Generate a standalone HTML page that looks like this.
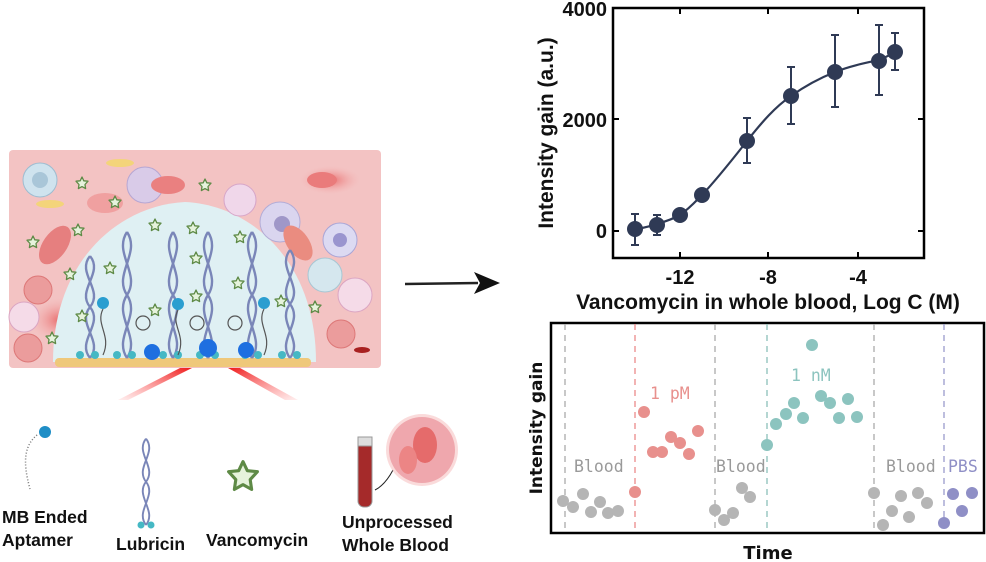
<!DOCTYPE html>
<html><head><meta charset="utf-8"><style>
html,body{margin:0;padding:0;background:#fff;}
svg{display:block;font-family:"Liberation Sans",Arial,sans-serif;}
</style></head><body>
<svg width="986" height="562" viewBox="0 0 986 562" xmlns="http://www.w3.org/2000/svg">
<defs>
<radialGradient id="rb" cx="0.5" cy="0.5" r="0.5"><stop offset="0" stop-color="#e86a6a"/><stop offset="1" stop-color="#f4b0b0" stop-opacity="0"/></radialGradient>
<linearGradient id="beam1" x1="1" y1="0" x2="0" y2="1"><stop offset="0" stop-color="#ee1c1c"/><stop offset="1" stop-color="#ff6060" stop-opacity="0.1"/></linearGradient>
<linearGradient id="beam2" x1="0" y1="0" x2="1" y2="1"><stop offset="0" stop-color="#ee1c1c"/><stop offset="1" stop-color="#ff6060" stop-opacity="0.1"/></linearGradient>
<g id="star"><polygon points="0,-6 1.8,-2.2 6,-1.8 3,1.5 3.6,5.6 0,3.6 -3.6,5.6 -3,1.5 -6,-1.8 -1.8,-2.2" fill="#e6f3dc" stroke="#5e8a46" stroke-width="1.3" stroke-linejoin="round"/></g>
<g id="lub"><path d="M0,0 C-14,-20 14,-40 0,-60 C-14,-80 14,-100 0,-120" fill="none" stroke="#7a86b8" stroke-width="2.4"/><path d="M0,0 C14,-20 -14,-40 0,-60 C14,-80 -14,-100 0,-120" fill="none" stroke="#7a86b8" stroke-width="2.4"/></g>
</defs>

<!-- Left illustration -->
<rect x="9" y="150" width="372" height="218" rx="4" fill="#f3c3c3"/>
<ellipse cx="60" cy="320" rx="30" ry="22" fill="url(#rb)"/>
<ellipse cx="330" cy="180" rx="30" ry="14" fill="url(#rb)"/>
<path d="M53,362 C53,260 120,205 185,202 C250,205 316,260 316,362 Z" fill="#dff0f3"/>
<circle cx="40" cy="180" r="17" fill="#cfe3ee" stroke="#9dbcd0"/>
<circle cx="40" cy="180" r="8" fill="#a9c6d8"/>
<circle cx="145" cy="185" r="18" fill="#d9cbe8" stroke="#b6a6d2"/>
<circle cx="240" cy="200" r="16" fill="#f0d7ea" stroke="#d6a5c8"/>
<circle cx="280" cy="222" r="20" fill="#dad5ef" stroke="#b3acd6"/>
<circle cx="282" cy="224" r="8" fill="#9f97c8"/>
<circle cx="340" cy="240" r="17" fill="#dcdaf2" stroke="#a9a5d6"/>
<circle cx="340" cy="240" r="7" fill="#9a95cf"/>
<circle cx="325" cy="275" r="17" fill="#d5e7ee" stroke="#a7c6d3"/>
<circle cx="355" cy="295" r="17" fill="#f5dbe8" stroke="#dba5c2"/>
<circle cx="38" cy="290" r="14" fill="#eb9c9c" stroke="#d77"/>
<circle cx="24" cy="317" r="15" fill="#f5dbe8" stroke="#dba5c2"/>
<circle cx="28" cy="348" r="14" fill="#eb9c9c" stroke="#d77"/>
<circle cx="341" cy="334" r="14" fill="#eb9c9c" stroke="#d77"/>
<ellipse cx="55" cy="245" rx="12" ry="22" transform="rotate(35 55 245)" fill="#e67f7f"/>
<ellipse cx="298" cy="243" rx="11" ry="20" transform="rotate(-35 298 243)" fill="#ea8c80"/>
<ellipse cx="322" cy="180" rx="15" ry="8" fill="#ea7b7b"/>
<ellipse cx="168" cy="185" rx="17" ry="9" fill="#ea8080"/>
<ellipse cx="105" cy="203" rx="18" ry="10" fill="#f0a0a0"/>
<ellipse cx="120" cy="163" rx="14" ry="4" fill="#f3d47a"/>
<ellipse cx="50" cy="204" rx="14" ry="4" fill="#f3d47a"/>
<ellipse cx="362" cy="350" rx="8" ry="3" fill="#a82020"/>
<rect x="55" y="358" width="256" height="9" rx="4" fill="#efc87a"/>
<g transform="translate(90 358) scale(1 0.85)"><use href="#lub"/></g>
<g transform="translate(127 358) scale(1 1.05)"><use href="#lub"/></g>
<g transform="translate(173 358) scale(1 1.05)"><use href="#lub"/></g>
<g transform="translate(208 358) scale(1 1.05)"><use href="#lub"/></g>
<g transform="translate(252 358) scale(1 1.05)"><use href="#lub"/></g>
<g transform="translate(290 358) scale(1 0.9)"><use href="#lub"/></g>
<g fill="#45b8c4"><circle cx="80" cy="355" r="4"/><circle cx="95" cy="355" r="4"/><circle cx="117" cy="355" r="4"/><circle cx="132" cy="355" r="4"/><circle cx="163" cy="355" r="4"/><circle cx="178" cy="355" r="4"/><circle cx="200" cy="355" r="4"/><circle cx="215" cy="355" r="4"/><circle cx="245" cy="355" r="4"/><circle cx="258" cy="355" r="4"/><circle cx="282" cy="355" r="4"/><circle cx="297" cy="355" r="4"/></g>
<g fill="#1e6fe0"><circle cx="152" cy="352" r="8"/><circle cx="208" cy="348" r="9"/><circle cx="246" cy="350" r="8"/></g>
<g fill="#2a9ed0"><circle cx="103" cy="303" r="6"/><circle cx="178" cy="304" r="6"/><circle cx="264" cy="303" r="6"/></g>
<g fill="none" stroke="#555" stroke-width="1.2"><path d="M103,309 C95,325 112,335 103,355"/><path d="M178,310 C170,325 187,335 178,355"/><path d="M264,309 C256,325 273,335 264,355"/><circle cx="143" cy="323" r="7"/><circle cx="197" cy="323" r="7"/><circle cx="235" cy="323" r="7"/></g>
<g>
<use href="#star" x="82" y="183"/><use href="#star" x="115" y="202"/><use href="#star" x="33" y="242"/><use href="#star" x="78" y="230"/><use href="#star" x="155" y="225"/><use href="#star" x="193" y="228"/><use href="#star" x="240" y="237"/><use href="#star" x="70" y="274"/><use href="#star" x="110" y="268"/><use href="#star" x="196" y="258"/><use href="#star" x="238" y="283"/><use href="#star" x="196" y="296"/><use href="#star" x="155" y="310"/><use href="#star" x="82" y="316"/><use href="#star" x="52" y="338"/><use href="#star" x="281" y="301"/><use href="#star" x="315" y="307"/><use href="#star" x="205" y="185"/>
</g>
<polygon points="180,368 192,368 128,400 118,400" fill="url(#beam1)"/>
<polygon points="228,368 240,368 298,400 285,400" fill="url(#beam2)"/>

<!-- arrow -->
<line x1="405" y1="284" x2="478" y2="283" stroke="#222" stroke-width="2.5"/>
<polygon points="474,272 500,283 474,294 480,283" fill="#111"/>

<!-- legend items -->
<path d="M37,435 C25,445 22,460 30,489" fill="none" stroke="#777" stroke-width="1.5" stroke-dasharray="1 2"/>
<circle cx="45" cy="432" r="6" fill="#1f8ec6"/>
<text x="2" y="523" font-size="17.5" font-weight="bold" fill="#111">MB Ended</text>
<text x="2" y="546" font-size="17.5" font-weight="bold" fill="#111">Aptamer</text>
<g transform="translate(146 525) scale(0.8 0.72)"><use href="#lub"/></g>
<circle cx="141" cy="525" r="3.5" fill="#45b8c4"/><circle cx="151" cy="525" r="3.5" fill="#45b8c4"/>
<text x="116" y="550" font-size="17.5" font-weight="bold" fill="#111">Lubricin</text>
<g transform="translate(243 476) scale(2.4)"><use href="#star"/></g>
<text x="206" y="546" font-size="17.5" font-weight="bold" fill="#111">Vancomycin</text>
<rect x="358" y="437" width="14" height="70" rx="6" fill="#a52a2a" stroke="#999"/>
<rect x="358" y="437" width="14" height="9" fill="#ddd" stroke="#999"/>
<path d="M375,490 Q385,485 393,470" fill="none" stroke="#222" stroke-width="1"/>
<circle cx="422" cy="450" r="36" fill="#f6c3c3" opacity="0.6"/>
<circle cx="422" cy="450" r="33" fill="#efa7ad"/>
<ellipse cx="425" cy="445" rx="12" ry="18" fill="#e56b6b"/>
<ellipse cx="408" cy="460" rx="9" ry="14" fill="#ec8585"/>
<text x="342" y="528" font-size="17.5" font-weight="bold" fill="#111">Unprocessed</text>
<text x="342" y="551" font-size="17.5" font-weight="bold" fill="#111">Whole Blood</text>

<!-- Top chart -->
<rect x="613" y="8" width="311" height="250" fill="none" stroke="#000" stroke-width="2.5"/>
<g stroke="#000" stroke-width="2">
<line x1="613" y1="231" x2="619" y2="231"/><line x1="613" y1="119" x2="619" y2="119"/>
<line x1="924" y1="231" x2="918" y2="231"/><line x1="924" y1="119" x2="918" y2="119"/>
<line x1="680" y1="258" x2="680" y2="252"/><line x1="768" y1="258" x2="768" y2="252"/><line x1="858" y1="258" x2="858" y2="252"/>
<line x1="680" y1="8" x2="680" y2="14"/><line x1="768" y1="8" x2="768" y2="14"/><line x1="858" y1="8" x2="858" y2="14"/>
</g>
<g font-size="20" font-weight="bold" fill="#111">
<text x="607" y="16" text-anchor="end">4000</text>
<text x="607" y="127" text-anchor="end">2000</text>
<text x="607" y="238" text-anchor="end">0</text>
<text x="680" y="284" text-anchor="middle">-12</text>
<text x="768" y="284" text-anchor="middle">-8</text>
<text x="858" y="284" text-anchor="middle">-4</text>
<text x="768" y="309" text-anchor="middle" font-size="21">Vancomycin in whole blood, Log C (M)</text>
<text transform="translate(553 133) rotate(-90)" text-anchor="middle" font-size="21">Intensity gain (a.u.)</text>
</g>
<path d="M635,229 C645,228 650,226 657,224 C667,221 673,219 680,215 C690,208 695,202 702,195 C718,178 732,160 747,141 C762,122 775,107 791,96 C805,86 820,78 835,72 C850,66 865,63 879,60 C887,57 891,54 895,52" fill="none" stroke="#2f3a55" stroke-width="2.2"/>
<g stroke="#2f3a55" stroke-width="2">
<line x1="635" y1="214" x2="635" y2="245"/><line x1="631" y1="214" x2="639" y2="214"/><line x1="631" y1="245" x2="639" y2="245"/>
<line x1="657" y1="215" x2="657" y2="235"/><line x1="653" y1="215" x2="661" y2="215"/><line x1="653" y1="235" x2="661" y2="235"/>
<line x1="747" y1="118" x2="747" y2="163"/><line x1="743" y1="118" x2="751" y2="118"/><line x1="743" y1="163" x2="751" y2="163"/>
<line x1="791" y1="67" x2="791" y2="124"/><line x1="787" y1="67" x2="795" y2="67"/><line x1="787" y1="124" x2="795" y2="124"/>
<line x1="835" y1="35" x2="835" y2="107"/><line x1="831" y1="35" x2="839" y2="35"/><line x1="831" y1="107" x2="839" y2="107"/>
<line x1="879" y1="25" x2="879" y2="95"/><line x1="875" y1="25" x2="883" y2="25"/><line x1="875" y1="95" x2="883" y2="95"/>
<line x1="895" y1="33" x2="895" y2="70"/><line x1="891" y1="33" x2="899" y2="33"/><line x1="891" y1="70" x2="899" y2="70"/>
</g>
<g fill="#2f3a55">
<circle cx="635" cy="229" r="8"/><circle cx="657" cy="225" r="8"/><circle cx="680" cy="215" r="8"/><circle cx="702" cy="195" r="8"/><circle cx="747" cy="141" r="8"/><circle cx="791" cy="96" r="8"/><circle cx="835" cy="72" r="8"/><circle cx="879" cy="61" r="8"/><circle cx="895" cy="52" r="8"/>
</g>

<!-- Bottom chart -->
<rect x="551" y="323" width="433" height="210" fill="none" stroke="#000" stroke-width="2.5"/>
<g stroke-width="1.3" stroke-dasharray="6 5">
<line x1="565" y1="324" x2="565" y2="532" stroke="#aaa"/>
<line x1="635" y1="324" x2="635" y2="532" stroke="#ea8a8a"/>
<line x1="715" y1="324" x2="715" y2="532" stroke="#aaa"/>
<line x1="767" y1="324" x2="767" y2="532" stroke="#8bbfba"/>
<line x1="874" y1="324" x2="874" y2="532" stroke="#aaa"/>
<line x1="944" y1="324" x2="944" y2="532" stroke="#9a9ccc"/>
</g>
<g fill="#b5b5b5">
<circle cx="563" cy="501" r="6"/><circle cx="573" cy="507" r="6"/><circle cx="583" cy="494" r="6"/><circle cx="591" cy="512" r="6"/><circle cx="600" cy="502" r="6"/><circle cx="608" cy="513" r="6"/><circle cx="618" cy="511" r="6"/>
<circle cx="715" cy="510" r="6"/><circle cx="724" cy="520" r="6"/><circle cx="733" cy="513" r="6"/><circle cx="742" cy="488" r="6"/><circle cx="750" cy="497" r="6"/>
<circle cx="874" cy="493" r="6"/><circle cx="883" cy="525" r="6"/><circle cx="892" cy="511" r="6"/><circle cx="901" cy="496" r="6"/><circle cx="909" cy="517" r="6"/><circle cx="918" cy="493" r="6"/><circle cx="927" cy="503" r="6"/>
</g>
<g fill="#e8908d">
<circle cx="635" cy="492" r="6"/><circle cx="644" cy="412" r="6"/><circle cx="653" cy="452" r="6"/><circle cx="662" cy="452" r="6"/><circle cx="671" cy="437" r="6"/><circle cx="680" cy="443" r="6"/><circle cx="689" cy="454" r="6"/><circle cx="698" cy="431" r="6"/>
</g>
<g fill="#8cc4bf">
<circle cx="767" cy="445" r="6"/><circle cx="776" cy="424" r="6"/><circle cx="786" cy="414" r="6"/><circle cx="794" cy="403" r="6"/><circle cx="803" cy="418" r="6"/><circle cx="812" cy="345" r="6"/><circle cx="821" cy="396" r="6"/><circle cx="830" cy="403" r="6"/><circle cx="839" cy="418" r="6"/><circle cx="848" cy="399" r="6"/><circle cx="857" cy="417" r="6"/>
</g>
<g fill="#8f8fc6">
<circle cx="944" cy="523" r="6"/><circle cx="953" cy="494" r="6"/><circle cx="962" cy="511" r="6"/><circle cx="972" cy="493" r="6"/>
</g>
<g font-family="'DejaVu Sans Mono','Liberation Mono',monospace" font-size="16.5">
<text x="574" y="472" fill="#9a9a9a">Blood</text>
<text x="716" y="472" fill="#9a9a9a">Blood</text>
<text x="886" y="472" fill="#9a9a9a">Blood</text>
<text x="948" y="472" fill="#8f8fc6">PBS</text>
<text x="650" y="399" fill="#e8908d">1 pM</text>
<text x="791" y="381" fill="#8cc4bf">1 nM</text>
</g>
<text transform="translate(542 428) rotate(-90)" text-anchor="middle" font-size="17" font-weight="bold" fill="#111" font-family="'DejaVu Sans','Liberation Sans',sans-serif">Intensity gain</text>
<text x="768" y="559" text-anchor="middle" font-size="18" font-weight="bold" fill="#111" font-family="'DejaVu Sans','Liberation Sans',sans-serif">Time</text>
</svg>
</body></html>
